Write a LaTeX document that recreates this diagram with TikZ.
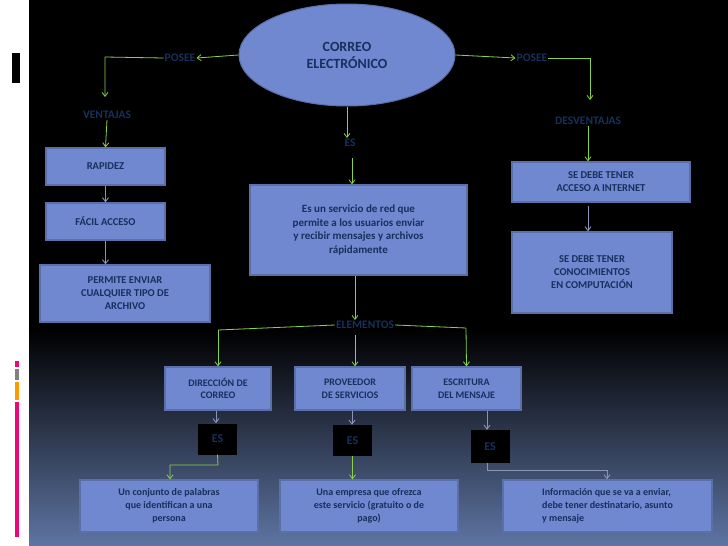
\documentclass[tikz,border=0pt]{standalone}
\usepackage{fontspec}
\setmainfont{Carlito}
\usetikzlibrary{shapes.geometric,arrows.meta}
\definecolor{bfill}{HTML}{6F88CF}
\definecolor{bdraw}{HTML}{5B6FA8}
\definecolor{navy}{HTML}{17305E}
\definecolor{grn}{HTML}{8BD24A}
\definecolor{gry}{HTML}{8A93B8}
\definecolor{bot}{HTML}{5E74A2}
\tikzset{
  box/.style={draw=bdraw,line width=1.2pt,fill=bfill,text=navy,font=\bfseries\fontsize{10.5}{13}\selectfont,align=center,inner sep=2pt},
  lab/.style={text=navy,font=\bfseries\fontsize{11.5}{14}\selectfont,inner sep=1pt},
  esbox/.style={fill=black,text=navy,font=\bfseries\fontsize{12}{14}\selectfont,minimum width=39pt,minimum height=31pt,inner sep=0pt},
  ga/.style={draw=grn,line width=0.8pt,-{Straight Barb[length=4pt,width=6pt]}},
  gl/.style={draw=grn,line width=0.8pt},
  ya/.style={draw=gry,line width=0.9pt,-{Straight Barb[length=4pt,width=6pt]}},
}
\begin{document}
\begin{tikzpicture}[x=1pt,y=-1pt]
\useasboundingbox (0,0) rectangle (728,546);
\fill[white] (0,0) rectangle (29,546);
\fill[black] (29,0) rectangle (728,330);
\shade[top color=black,bottom color=bot] (29,330) rectangle (728,546);
\fill[black] (12,53) rectangle (20,83);
\fill[magenta!80!red] (15,361) rectangle (19,367);
\fill[gray] (15,369) rectangle (19,380);
\fill[orange!80!yellow] (15,382) rectangle (19,400);
\fill[magenta!80!red] (15,402) rectangle (19,537);

\node[ellipse,draw=bdraw,line width=1pt,fill=bfill,minimum width=216pt,minimum height=102pt,inner sep=0pt,text=navy,font=\bfseries\fontsize{14}{17}\selectfont,align=center] (ce) at (347,55) {CORREO\\ELECTRÓNICO};
\node[lab] (pl) at (180,58) {POSEE};
\node[lab] (pr) at (532,58) {POSEE};
\node[lab] (ven) at (107,115) {VENTAJAS};
\node[lab] (des) at (588,121) {DESVENTAJAS};
\node[lab] (es0) at (350,143) {ES};
\node[lab] (ele) at (365,325) {ELEMENTOS};

\node[box,minimum width=119pt,minimum height=37pt] (rap) at (105.5,166.5) {RAPIDEZ};
\node[box,minimum width=119pt,minimum height=37pt] (fac) at (105.5,221.5) {FÁCIL ACCESO};
\node[box,minimum width=170pt,minimum height=57pt] (per) at (125,293.5) {PERMITE ENVIAR\\CUALQUIER TIPO DE\\ARCHIVO};
\node[box,minimum width=217pt,minimum height=90pt,font=\bfseries\fontsize{11}{13.5}\selectfont] (def) at (358.5,230) {Es un servicio de red que\\permite a los usuarios enviar\\y recibir mensajes y archivos\\rápidamente};
\node[box,minimum width=178pt,minimum height=40pt] (acc) at (601,182) {SE DEBE TENER\\ACCESO A INTERNET};
\node[box,minimum width=160pt,minimum height=81pt] (con) at (592,272.5) {SE DEBE TENER\\CONOCIMIENTOS\\EN COMPUTACIÓN};

\node[box,minimum width=106pt,minimum height=43pt,font=\bfseries\fontsize{10}{12.5}\selectfont] (dir) at (218,388.5) {DIRECCIÓN DE\\CORREO};
\node[box,minimum width=110pt,minimum height=43pt,font=\bfseries\fontsize{10}{12.5}\selectfont] (pro) at (350,388.5) {PROVEEDOR\\DE SERVICIOS};
\node[box,minimum width=109pt,minimum height=43pt,font=\bfseries\fontsize{10}{12.5}\selectfont] (esc) at (466.5,388.5) {ESCRITURA\\DEL MENSAJE};

\node[esbox] (e1) at (217.5,439) {ES};
\node[esbox] (e2) at (352.5,440.5) {ES};
\node[esbox,minimum height=33pt] (e3) at (490,446.5) {ES};

\node[box,minimum width=178pt,minimum height=52pt,font=\fontsize{10}{13}\selectfont\bfseries] (b1) at (169,506) {Un conjunto de palabras\\que identifican a una\\persona};
\node[box,minimum width=178pt,minimum height=52pt,font=\fontsize{10}{13}\selectfont\bfseries] (b2) at (369,506) {Una empresa que ofrezca\\este servicio (gratuito o de\\pago)};
\node[box,minimum width=209pt,minimum height=52pt,font=\fontsize{10}{13}\selectfont\bfseries,align=left] (b3) at (607.5,506) {Información que se va a enviar,\\debe tener destinatario, asunto\\y mensaje};

\coordinate (c1) at (105,57);
\draw[ga] (ce.west) -- (pl.east);
\draw[ga] (pl.west) -- (c1) -- (105,97);
\draw[ga] (ce.east) -- (pr.west);
\draw[ga] (pr.east) -- (590,58) -- (590,100);
\draw[ga] (ven.south) -- (rap.north);
\draw[ya] (rap.south) -- (fac.north);
\draw[ya] (fac.south) -- (per.north -| fac.south);
\draw[ga] (ce.south) -- (es0.north -| ce.south);
\draw[ga] (352,158) -- (def.north -| 352,0);
\draw[ga] (des.south) -- (acc.north -| des.south);
\draw[ya] (588,206) -- (con.north -| 588,0);
\draw[ga] (def.south -| 355,0) -- (ele.north -| 355,0);
\draw[gl] (ele.west) -- (218,330);
\draw[ga] (218,330) -- (dir.north);
\draw[gl] (ele.east) -- (466,328);
\draw[ga] (466,328) -- (esc.north);
\draw[ga] (355,335) -- (pro.north -| 355,0);
\draw[ya] (dir.south -| 216,0) -- (e1.north -| 216,0);
\draw[ya] (pro.south -| 352,0) -- (e2.north -| 352,0);
\draw[ya] (esc.south -| 487,0) -- (e3.north -| 487,0);
\draw[ga] (e1.south) -- (218,465) -- (170,465) -- (b1.north -| 170,0);
\draw[ga] (e2.south) -- (b2.north -| e2.south);
\draw[ya] (e3.south -| 487,0) -- (487,470) -- (607,470) -- (b3.north -| 607,0);
\end{tikzpicture}
\end{document}
